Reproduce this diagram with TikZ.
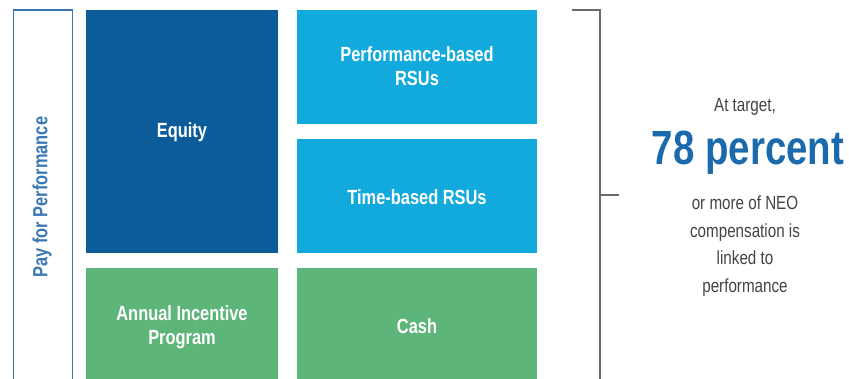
\documentclass[tikz,border=0pt]{standalone}
\usepackage{fontspec}
\setmainfont{Liberation Sans}[FakeStretch=0.8]
\definecolor{dkblue}{HTML}{0C5C9A}
\definecolor{ltblue}{HTML}{12AADD}
\definecolor{grn}{HTML}{5EB57A}
\definecolor{outl}{HTML}{3A78B5}
\definecolor{bigblue}{HTML}{1B6AAE}
\definecolor{gry}{HTML}{444444}
\definecolor{brk}{HTML}{6A6A6A}
\begin{document}
\begin{tikzpicture}[x=1pt,y=-1pt,
  boxst/.style={anchor=north west,inner sep=0pt},
  lbl/.style={text=white,font=\bfseries\fontsize{20.5}{24}\selectfont,align=center,inner sep=0pt},
  rtext/.style={text=gry,font=\fontsize{19}{27.5}\selectfont,align=center,inner sep=0pt}]
\useasboundingbox (0,0) rectangle (849,379);
\fill[white] (0,0) rectangle (849,379);
% outline box
\node[draw=outl,line width=1.6pt,anchor=north west,minimum width=59pt,minimum height=380pt,inner sep=0pt] (pfp) at (12.5,9.5) {};
\node[rotate=90,text=outl,font=\bfseries\fontsize{20.5}{24}\selectfont,inner sep=0pt] (pfpt) at (42,197) {Pay for Performance};
% boxes
\node[boxst,fill=dkblue,minimum width=192pt,minimum height=243pt] (eq) at (86,10) {};
\node[lbl] (eqt) at (182,132) {Equity};
\node[boxst,fill=ltblue,minimum width=240pt,minimum height=114pt] (prsu) at (297,10) {};
\node[lbl] (prsut) at (417,66) {Performance-based\\RSUs};
\node[boxst,fill=ltblue,minimum width=240pt,minimum height=114pt] (trsu) at (297,139) {};
\node[lbl] (trsut) at (417,197) {Time-based RSUs};
\node[boxst,fill=grn,minimum width=192pt,minimum height=112pt] (aip) at (86,268) {};
\node[lbl] (aipt) at (182,327) {Annual Incentive\\Program};
\node[boxst,fill=grn,minimum width=240pt,minimum height=112pt] (cash) at (297,268) {};
\node[lbl] (casht) at (417,326) {Cash};
% bracket
\coordinate (b0) at (572,10);
\coordinate (b1) at (600,10);
\coordinate (b2) at (600,380);
\coordinate (m0) at (600,195);
\coordinate (m1) at (619,195);
\draw[brk,line width=1.3pt] (b0) -- (b1) -- (b2);
\draw[brk,line width=1.3pt] (m0) -- (m1);
% right text
\node[rtext] (t1) at (745,107) {At target,};
\node[text=bigblue,font=\bfseries\fontsize{48}{52}\selectfont,inner sep=0pt] (t2) at (748,153) {78 percent};
\node[rtext] (t3) at (745,246) {or more of NEO\\compensation is\\linked to\\performance};
\end{tikzpicture}
\end{document}
